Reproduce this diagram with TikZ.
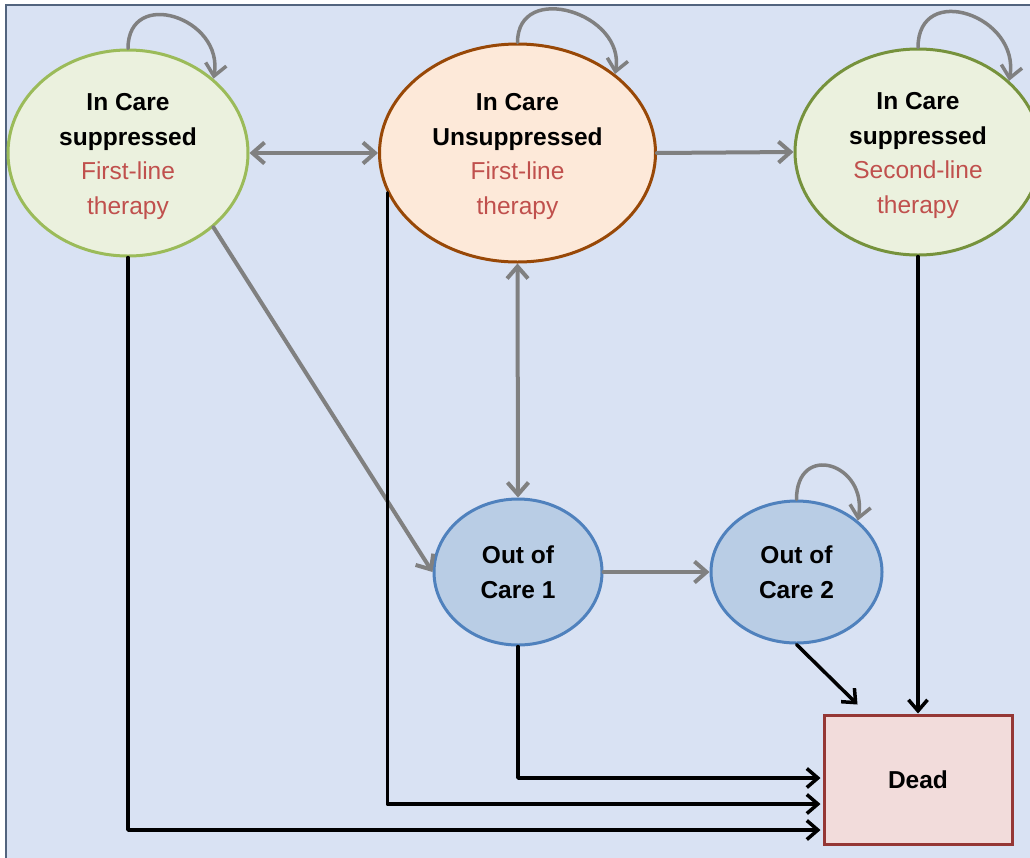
\documentclass[tikz,border=0pt]{standalone}
\usepackage{fontspec}
\setmainfont{Liberation Sans}
\usetikzlibrary{arrows.meta,shapes.geometric,calc}
\definecolor{bgc}{HTML}{D9E2F3}
\definecolor{panelc}{HTML}{52647E}
\definecolor{greenfill}{HTML}{EBF1DE}
\definecolor{greenA}{HTML}{9BBB59}
\definecolor{greenC}{HTML}{76923C}
\definecolor{orangefill}{HTML}{FDE9D9}
\definecolor{brownc}{HTML}{984807}
\definecolor{bluefill}{HTML}{B9CDE5}
\definecolor{bluec}{HTML}{4F81BD}
\definecolor{deadfill}{HTML}{F2DCDB}
\definecolor{deadc}{HTML}{953735}
\definecolor{redc}{HTML}{C0504D}
\definecolor{grayc}{HTML}{808080}
\newcommand{\toprule}{\rule{0pt}{24pt}}
\begin{document}
\begin{tikzpicture}[x=1pt,y=1pt,
  state/.style={ellipse,line width=3pt,inner sep=0pt,align=center,
    font=\fontsize{24.5}{34.5}\selectfont\bfseries},
  garrow/.style={draw=grayc,line width=4pt,line cap=round,line join=round,
    -{Straight Barb[length=12pt,width=21pt]}},
  gdarrow/.style={garrow,{Straight Barb[length=12pt,width=21pt]}-{Straight Barb[length=12pt,width=21pt]}},
  barrow/.style={draw=black,line width=3.5pt,line cap=round,line join=round,
    -{Straight Barb[length=11pt,width=19pt]}}
]
\useasboundingbox (0,0) rectangle (1030,-857);
\fill[white] (0,0) rectangle (1030,-857);
\draw[fill=bgc,draw=panelc,line width=2pt] (6,-5) rectangle (1045,-875);

\node[state,fill=greenfill,draw=greenA,minimum width=240pt,minimum height=206pt] (A) at (128,-153)
  {\toprule In Care\\suppressed\\{\mdseries\color{redc}First-line}\\{\mdseries\color{redc}therapy}};
\node[state,fill=orangefill,draw=brownc,minimum width=276pt,minimum height=218pt] (B) at (517.5,-153)
  {\toprule In Care\\Unsuppressed\\{\mdseries\color{redc}First-line}\\{\mdseries\color{redc}therapy}};
\node[state,fill=greenfill,draw=greenC,minimum width=246pt,minimum height=206pt] (C) at (918,-152)
  {\toprule In Care\\suppressed\\{\mdseries\color{redc}Second-line}\\{\mdseries\color{redc}therapy}};
\node[state,fill=bluefill,draw=bluec,minimum width=168pt,minimum height=146pt] (D) at (518,-572)
  {Out of\\Care 1};
\node[state,fill=bluefill,draw=bluec,minimum width=171pt,minimum height=142pt] (E) at (796.5,-572)
  {Out of\\Care 2};
\node[rectangle,fill=deadfill,draw=deadc,line width=3pt,minimum width=188pt,minimum height=129pt,
  font=\fontsize{24.5}{30}\selectfont\bfseries] (Dead) at (918,-779.5) {Dead};

% self loops
\draw[garrow,line width=3.5pt] (A.north) to[out=90,in=80,looseness=1.75] (A.41);
\draw[garrow,line width=3.5pt] (B.north) to[out=90,in=80,looseness=1.55] (B.39);
\draw[garrow,line width=3.5pt] (C.north) to[out=90,in=80,looseness=1.75] (C.38);
\draw[garrow,line width=3.5pt] (E.north) to[out=90,in=80,looseness=2.3] (E.40);

% gray transitions
\draw[gdarrow] (A.east) -- (B.west);
\draw[garrow] (B.east) -- (C.west);
\draw[gdarrow] (B.south) -- (D.north);
\draw[garrow] (A.-41) -- (D.west);
\draw[garrow] (D.east) -- (E.west);

% to dead
\coordinate (eD) at ([xshift=35pt,yshift=9pt]Dead.north west);
\draw[barrow] (E.south) -- (eD);
\draw[barrow] (C.south) -- (Dead.north);
\draw[barrow] (D.south) |- ([xshift=-2pt,yshift=1.5pt]Dead.west);
\draw[barrow] (B.197) |- ([xshift=-2pt,yshift=-24.5pt]Dead.west);
\draw[barrow] (A.south) |- ([xshift=-2pt,yshift=-50.5pt]Dead.west);
\end{tikzpicture}
\end{document}
